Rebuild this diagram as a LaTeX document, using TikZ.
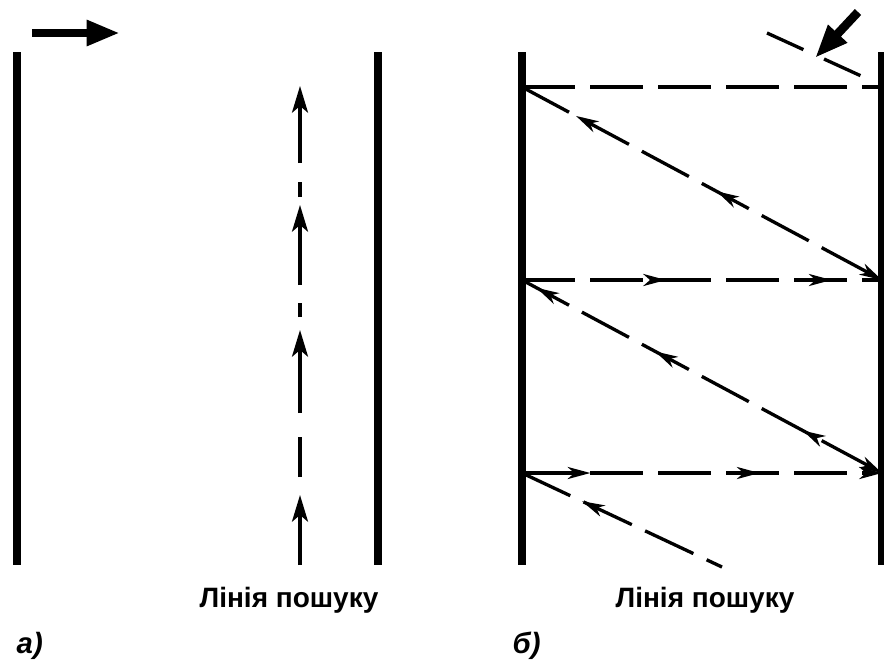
\documentclass[tikz,border=0pt]{standalone}
\usepackage{fontspec}
\setmainfont{Liberation Sans}
\usetikzlibrary{arrows.meta,decorations.markings}
\tikzset{
	wall/.style={line width=5.5pt},
	ray/.style={line width=2.5pt, dash pattern=on 40pt off 11pt},
	bigarrow/.style={line width=6.5pt,-{Triangle[length=25pt,width=18pt]}},
	atip/.style={-{Stealth[length=20pt,width=12pt,inset=5pt]}},
	rtip/.style={-{Stealth[length=17pt,width=9pt,inset=5pt]}},
	arr/.style={postaction={decorate,decoration={markings,
		mark=at position #1 with {\arrow{Stealth[length=17pt,width=9pt,inset=5pt]}}}}},
	rarr/.style={postaction={decorate,decoration={markings,
		mark=at position #1 with {\arrowreversed{Stealth[length=17pt,width=9pt,inset=5pt]}}}}},
	lbl/.style={font=\bfseries\fontsize{21}{24}\selectfont, anchor=base},
	tag/.style={font=\bfseries\itshape\fontsize{22}{24}\selectfont, anchor=base west}
}
\begin{document}
\begin{tikzpicture}[x=0.75pt,y=-0.75pt]
		\useasboundingbox (0,0) rectangle (884,662);
		%
		% a) straight scan
		\coordinate (aLt) at (17,52);  \coordinate (aLb) at (17,565);
		\coordinate (aRt) at (378,52); \coordinate (aRb) at (378,565);
		\draw[wall] (aLt) -- (aLb);
		\draw[wall] (aRt) -- (aRb);
		\coordinate (moveA) at (32,33); \coordinate (moveB) at (120,33);
		\draw[bigarrow] (moveA) -- (moveB);
		\foreach \a/\b in {565/495,413/330,285/205,163/86}
			\draw[line width=2.5pt,atip] (300,\a) -- (300,\b);
		\foreach \a/\b in {477/437,317/303,197/182}
			\draw[line width=2.5pt] (300,\a) -- (300,\b);
		\node[lbl] (searchA) at (289,607) {Лінія пошуку};
		\node[tag] (tagA) at (12,653) {а)};
		%
		% b) zigzag scan
		\coordinate (bLt) at (522,52);  \coordinate (bLb) at (522,565);
		\coordinate (bRt) at (882,52);  \coordinate (bRb) at (882,565);
		\draw[wall] (bLt) -- (bLb);
		\draw[wall] (bRt) -- (bRb);
		\coordinate (bL0) at (522,87);  \coordinate (bR0) at (882,87);
		\coordinate (bL1) at (522,280); \coordinate (bR1) at (882,280);
		\coordinate (bL2) at (522,473); \coordinate (bR2) at (882,473);
		\coordinate (bEnd) at (722,567);
		\coordinate (inA) at (767,33);  \coordinate (inB) at (870,80);
		%
		\draw[ray,dash pattern=on 30pt off 17pt] (inA) -- (inB);
		\draw[bigarrow] (858,12) -- (815,58);
		\draw[ray] (bL0) -- (bR0);
		\draw[ray,rarr=0.15,rarr=0.54,rtip] (bL0) -- (bR1);
		\draw[ray,arr=0.40,arr=0.86] (bL1) -- (bR1);
		\draw[ray,rarr=0.04,rarr=0.37,rarr=0.78,rtip] (bL1) -- (bR2);
		\draw[ray,arr=0.19,arr=0.66,rtip] (bL2) -- (bR2);
		\draw[ray,rarr=0.30] (bL2) -- (bEnd);
		\node[lbl] (searchB) at (705,607) {Лінія пошуку};
		\node[tag] (tagB) at (508,653) {б)};
		%
	\end{tikzpicture}
\end{document}
